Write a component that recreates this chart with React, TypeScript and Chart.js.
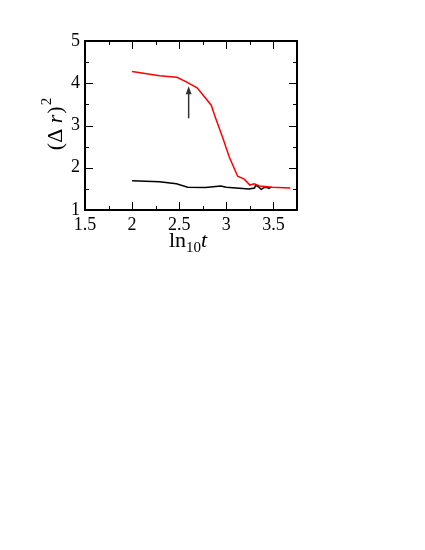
import React, { useEffect, useRef } from "react";
import { Chart, registerables } from "chart.js";

Chart.register(...registerables);

const redX = [2.0, 2.29, 2.475, 2.57, 2.69, 2.84, 2.88, 2.96, 3.03, 3.12, 3.19, 3.25, 3.295, 3.35, 3.49, 3.68];
const redY = [4.28, 4.18, 4.14, 4.04, 3.89, 3.48, 3.21, 2.72, 2.26, 1.8, 1.73, 1.59, 1.62, 1.57, 1.54, 1.52];
const blackX = [2.0, 2.29, 2.47, 2.59, 2.78, 2.94, 3.0, 3.24, 3.3, 3.31, 3.34, 3.37, 3.4, 3.43, 3.45, 3.48];
const blackY = [1.69, 1.67, 1.62, 1.54, 1.53, 1.57, 1.54, 1.5, 1.52, 1.59, 1.55, 1.49, 1.53, 1.54, 1.51, 1.54];
const arrowX = 2.6;
const arrowFromY = 3.17;
const arrowToY = 3.93;
const xMin = 1.5, xMax = 3.75, xStep = 0.5, xMinor = 0.25;
const yMin = 1, yMax = 5, yStep = 1, yMinor = 0.5;

const SERIF = '"Liberation Serif", "Times New Roman", serif';
Chart.defaults.font.family = SERIF;

const decorPlugin = {
  id: "decor",
  afterDraw(chart: any) {
    const ctx = chart.ctx;
    const { left, right, top, bottom } = chart.chartArea;
    const xs = chart.scales.x;
    const ys = chart.scales.y;
    ctx.save();
    // arrow
    const ax = xs.getPixelForValue(arrowX);
    const ay0 = ys.getPixelForValue(arrowFromY);
    const ay1 = ys.getPixelForValue(arrowToY);
    ctx.strokeStyle = "#333";
    ctx.fillStyle = "#333";
    ctx.lineWidth = 1.5;
    ctx.beginPath();
    ctx.moveTo(ax, ay0);
    ctx.lineTo(ax, ay1 + 6);
    ctx.stroke();
    ctx.beginPath();
    ctx.moveTo(ax, ay1);
    ctx.lineTo(ax - 3, ay1 + 8);
    ctx.lineTo(ax + 3, ay1 + 8);
    ctx.closePath();
    ctx.fill();
    // frame
    ctx.strokeStyle = "#000";
    ctx.lineWidth = 2;
    ctx.strokeRect(left, top, right - left, bottom - top);
    // ticks
    ctx.lineWidth = 1;
    const eps = 1e-6;
    for (let v = xMin; v <= xMax + eps; v += xMinor) {
      const isMajor = Math.abs((v - xMin) / xStep - Math.round((v - xMin) / xStep)) < 1e-6;
      const len = isMajor ? 8 : 4;
      const px = Math.round(xs.getPixelForValue(v)) + 0.5;
      if (px <= left + 1 || px >= right - 1) continue;
      ctx.beginPath();
      ctx.moveTo(px, bottom);
      ctx.lineTo(px, bottom - len);
      ctx.moveTo(px, top);
      ctx.lineTo(px, top + len);
      ctx.stroke();
    }
    for (let v = yMin; v <= yMax + eps; v += yMinor) {
      const isMajor = Math.abs((v - yMin) / yStep - Math.round((v - yMin) / yStep)) < 1e-6;
      const len = isMajor ? 8 : 4;
      const py = Math.round(ys.getPixelForValue(v)) + 0.5;
      if (py <= top + 1 || py >= bottom - 1) continue;
      ctx.beginPath();
      ctx.moveTo(left, py);
      ctx.lineTo(left + len, py);
      ctx.moveTo(right, py);
      ctx.lineTo(right - len, py);
      ctx.stroke();
    }
    // x title: ln10 t
    ctx.fillStyle = "#000";
    ctx.textBaseline = "alphabetic";
    ctx.textAlign = "left";
    const big = "22px " + SERIF;
    const small = "15px " + SERIF;
    const ital = "italic 22px " + SERIF;
    ctx.font = big;
    const w1 = ctx.measureText("ln").width;
    ctx.font = small;
    const w2 = ctx.measureText("10").width;
    ctx.font = ital;
    const w3 = ctx.measureText("t").width;
    const total = w1 + w2 + w3;
    const cx = (left + right) / 2 - 3;
    const base = 247;
    let x0 = cx - total / 2;
    ctx.font = big;
    ctx.fillText("ln", x0, base);
    x0 += w1;
    ctx.font = small;
    ctx.fillText("10", x0, base + 5);
    x0 += w2;
    ctx.font = ital;
    ctx.fillText("t", x0, base);
    // y title: (Δ r)^2
    ctx.translate(62, 125);
    ctx.rotate(-Math.PI / 2);
    ctx.font = big;
    const t1 = "(Δ ";
    const t2 = "r";
    const t3 = ")";
    const a = ctx.measureText(t1).width;
    ctx.font = ital;
    const b = ctx.measureText(t2).width;
    ctx.font = big;
    const c = ctx.measureText(t3).width;
    ctx.font = small;
    const d = ctx.measureText("2").width;
    let yx = -(a + b + c + d) / 2;
    ctx.font = big;
    ctx.fillText(t1, yx, 0);
    yx += a;
    ctx.font = ital;
    ctx.fillText(t2, yx, 0);
    yx += b + 1;
    ctx.font = big;
    ctx.fillText(t3, yx, 0);
    yx += c + 1;
    ctx.font = small;
    ctx.fillText("2", yx, -11);
    ctx.restore();
  },
};

export default function App() {
  const ref = useRef<HTMLCanvasElement | null>(null);
  useEffect(() => {
    if (!ref.current) return;
    const chart = new Chart(ref.current, {
      type: "scatter",
      data: {
        datasets: [
          {
            data: redX.map((x, i) => ({ x, y: redY[i] })),
            borderColor: "#ff0000",
            backgroundColor: "#ff0000",
            borderWidth: 1.5,
            showLine: true,
            pointRadius: 0,
            tension: 0,
          },
          {
            data: blackX.map((x, i) => ({ x, y: blackY[i] })),
            borderColor: "#000000",
            backgroundColor: "#000000",
            borderWidth: 1.5,
            showLine: true,
            pointRadius: 0,
            tension: 0,
          },
        ],
      },
      options: {
        animation: false,
        responsive: false,
        maintainAspectRatio: false,
        layout: { padding: { left: 0, top: 41, right: 128, bottom: 0 } },
        plugins: { legend: { display: false }, tooltip: { enabled: false } },
        scales: {
          x: {
            type: "linear",
            min: xMin,
            max: xMax,
            grid: { display: false, drawTicks: false },
            border: { display: false },
            ticks: {
              stepSize: xStep,
              includeBounds: false,
              padding: 4,
              color: "#000",
              font: { family: SERIF, size: 18 },
              maxRotation: 0,
              callback: (v: any) => String(Number(v)),
            },
            afterFit: (s: any) => {
              s.height = 340;
            },
          },
          y: {
            type: "linear",
            min: yMin,
            max: yMax,
            grid: { display: false, drawTicks: false },
            border: { display: false },
            ticks: {
              stepSize: yStep,
              padding: 5,
              color: "#000",
              font: { family: SERIF, size: 18 },
              callback: (v: any) => String(Number(v)),
            },
            afterFit: (s: any) => {
              s.width = 85;
            },
          },
        },
      },
      plugins: [decorPlugin],
    } as any);
    return () => chart.destroy();
  }, []);
  return (
    <div style={{ position: "absolute", left: 0, top: 0, width: 425, height: 550 }}>
      <canvas ref={ref} width={425} height={550} style={{ display: "block", width: 425, height: 550 }} />
    </div>
  );
}
